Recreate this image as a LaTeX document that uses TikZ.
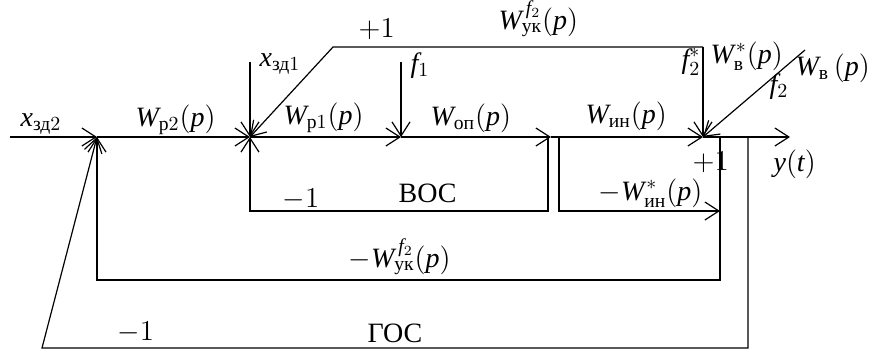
\documentclass[tikz,border=0pt]{standalone}
\usepackage{amsmath}
\usepackage{fontspec}
\setmainfont{Liberation Serif}
\DeclareSymbolFont{letters}{TU}{\rmdefault}{m}{it}
\DeclareSymbolFont{operators}{TU}{\rmdefault}{m}{n}
\usetikzlibrary{arrows.meta}

\tikzset{
  sig/.style={-{Straight Barb[length=7pt,width=9pt]}},
  lbl/.style={inner sep=0pt, font=\fontsize{14}{17}\selectfont},
}

\begin{document}
\begin{tikzpicture}[x=0.5pt, y=-0.5pt, line width=0.6pt]
    \useasboundingbox (0,0) rectangle (869,350);

    % points on the main line
    \coordinate (in)  at (10,137);
    \coordinate (s1)  at (97,137);
    \coordinate (s2)  at (250,137);
    \coordinate (a1)  at (401,137);
    \coordinate (a2)  at (551,137);
    \coordinate (s3)  at (703,137);
    \coordinate (out) at (790,137);

    % branch points and corners
    \coordinate (b1) at (548,137);
    \coordinate (c1) at (559,137);
    \coordinate (r1) at (720,137);
    \coordinate (r2) at (748,137);
    \coordinate (m1) at (720,211);
    \coordinate (t1) at (333,47);
    \coordinate (t2) at (703,47);
    \coordinate (g1) at (42,348);
    \coordinate (xz1) at (250,62);
    \coordinate (f1top) at (401,62);
    \coordinate (f2top) at (805,50);

    % main line
    \draw[sig] (in) -- (s1);
    \draw[sig] (s1) -- (s2);
    \draw[sig] (s2) -- (a1);
    \draw[sig] (a1) -- (a2);
    \draw[sig] (a2) -- (s3);
    \draw[sig] (s3) -- (out);

    % inputs and disturbances
    \draw[sig] (xz1) -- (s2);
    \draw[sig] (f1top) -- (a1);
    \draw[sig] (f2top) -- (s3);
    \draw[sig] (t2) -- (s3);
    \draw[sig] (t2) -- (t1) -- (s2);

    % feedback loops
    \draw[sig] (b1) -- ++(0,74) -| (s2);
    \draw[sig] (c1) -- ++(0,74) -- (m1);
    \draw[sig] (r1) -- ++(0,143) -| (s1);
    \draw[sig] (r2) -- ++(0,211) -- (g1) -- (s1);

    % labels
    \node[lbl, anchor=base west] (lxz2) at (20,126) {$x_{\text{зд}2}$};
    \node[lbl, anchor=base west] (lWp2) at (135,126) {$W_{\text{р}2}(p)$};
    \node[lbl, anchor=base west] (lxz1) at (259,66) {$x_{\text{зд}1}$};
    \node[lbl, anchor=base west] (lp1) at (358,37) {$+1$};
    \node[lbl, anchor=base west] (lWyk) at (498,29) {$W^{\kern2pt f_2}_{\text{ук}}(p)$};
    \node[lbl, anchor=base west] (lWp1) at (283,124) {$W_{\text{р}1}(p)$};
    \node[lbl, anchor=base west] (lf1) at (410,72) {$f_1$};
    \node[lbl, anchor=base west] (lWop) at (430,125) {$W_{\text{оп}}(p)$};
    \node[lbl, anchor=base west] (lWin) at (585,123) {$W_{\text{ин}}(p)$};
    \node[lbl, anchor=base east] (lf2s) at (701,68) {$f_2^*$};
    \node[lbl, anchor=base west] (lWvs) at (710,63) {$W^{\kern1pt *}_{\text{в}}(p)$};
    \node[lbl, anchor=base west] (lWv) at (795,75) {$W_{\text{в}}\,(p)$};
    \node[lbl, anchor=base west] (lf2) at (769,93) {$f_2$};
    \node[lbl, anchor=base west] (ly) at (773,171) {$y(t)$};
    \node[lbl, anchor=base west] (lp1b) at (692,170) {$+1$};
    \node[lbl, anchor=base west] (lWins) at (598,200) {$-W^{\kern1pt *}_{\text{ин}}(p)$};
    \node[lbl, anchor=base west] (lm1a) at (282,207) {$-1$};
    \node[lbl, anchor=base west] (lvoc) at (398,202) {ВОС};
    \node[lbl, anchor=base west] (lWyk2) at (348,267) {$-W^{\kern2pt f_2}_{\text{ук}}(p)$};
    \node[lbl, anchor=base west] (lm1b) at (117,340) {$-1$};
    \node[lbl, anchor=base west] (lgoc) at (367,342) {ГОС};
\end{tikzpicture}
\end{document}
